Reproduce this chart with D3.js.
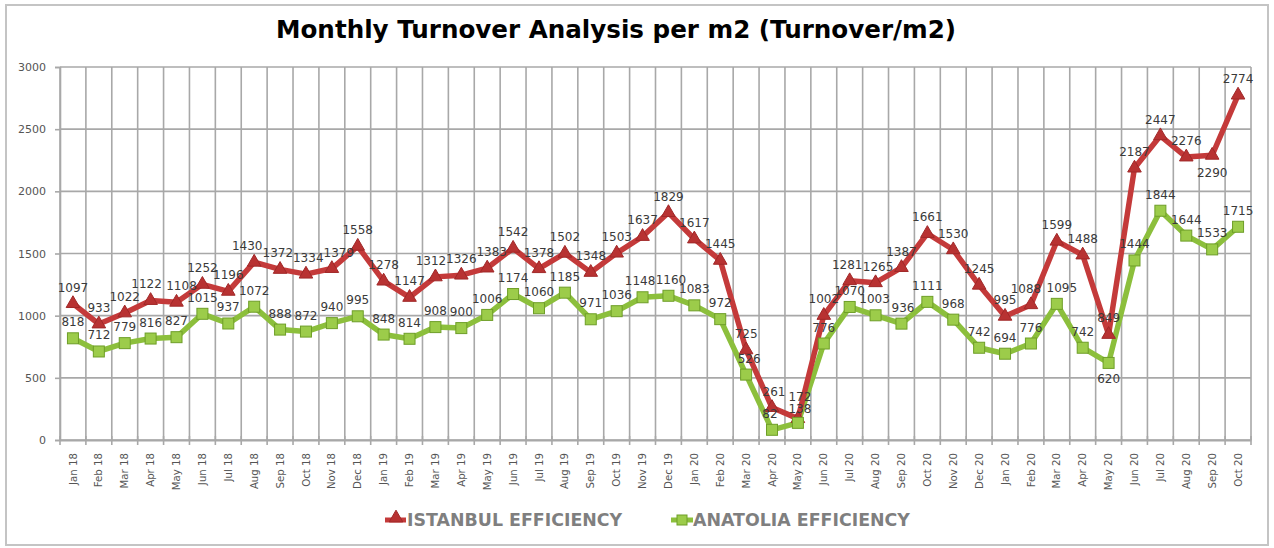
<!DOCTYPE html>
<html><head><meta charset="utf-8">
<script src="https://cdn.jsdelivr.net/npm/d3@7"></script>
<style>html,body{margin:0;padding:0;background:#fff;}svg{display:block;}</style>
</head><body>
<svg id="c" width="1274" height="548"></svg>
<script>
const categories = ["Jan 18","Feb 18","Mar 18","Apr 18","May 18","Jun 18","Jul 18","Aug 18","Sep 18","Oct 18","Nov 18","Dec 18",
 "Jan 19","Feb 19","Mar 19","Apr 19","May 19","Jun 19","Jul 19","Aug 19","Sep 19","Oct 19","Nov 19","Dec 19",
 "Jan 20","Feb 20","Mar 20","Apr 20","May 20","Jun 20","Jul 20","Aug 20","Sep 20","Oct 20","Nov 20","Dec 20",
 "Jan 20","Feb 20","Mar 20","Apr 20","May 20","Jun 20","Jul 20","Aug 20","Sep 20","Oct 20"];
const istanbul = [1097,933,1022,1122,1108,1252,1196,1430,1372,1334,1379,1558,
 1278,1147,1312,1326,1383,1542,1378,1502,1348,1503,1637,1829,
 1617,1445,725,261,172,1002,1281,1265,1387,1661,1530,1245,
 995,1088,1599,1488,849,2187,2447,2276,2290,2774];
const anatolia = [818,712,779,816,827,1015,937,1072,888,872,940,995,
 848,814,908,900,1006,1174,1060,1185,971,1036,1148,1160,
 1083,972,526,82,138,776,1070,1003,936,1111,968,742,
 694,776,1095,742,620,1444,1844,1644,1533,1715];
const yTicks = [0,500,1000,1500,2000,2500,3000];
const seriesNames = ["ISTANBUL EFFICIENCY","ANATOLIA EFFICIENCY"];
const titleText = "Monthly Turnover Analysis per m2 (Turnover/m2)";

(function(){
const svg = d3.select("#c");
const F = "DejaVu Sans, Verdana, sans-serif";
const pL = 60, pR = 1251, pT = 67, pB = 440;
const idx = categories.map((d,i)=>i);
const x = d3.scaleBand().domain(idx).range([pL,pR]);
const y = d3.scaleLinear().domain([0,3000]).range([pB,pT]);
const cx = i => x(i) + x.bandwidth()/2;

svg.append("rect").attr("x",6).attr("y",5).attr("width",1262).attr("height",540)
  .attr("fill","#fff").attr("stroke","#c4c4c4").attr("stroke-width",2);

svg.append("text").attr("x",616).attr("y",38).attr("text-anchor","middle")
  .attr("font-family",F).attr("font-weight","bold").attr("font-size",24.6).attr("fill","#000")
  .text(titleText);

const grid = svg.append("g");
grid.selectAll("line.h").data(yTicks).join("line")
  .attr("x1",pL).attr("x2",pR).attr("y1",d=>y(d)).attr("y2",d=>y(d))
  .attr("stroke","#a8a8a8").attr("stroke-width",1.6);
const bounds = idx.map(i=>x(i)).concat([pR]);
grid.selectAll("line.v").data(bounds).join("line")
  .attr("x1",d=>d).attr("x2",d=>d).attr("y1",pT).attr("y2",pB)
  .attr("stroke","#a8a8a8").attr("stroke-width",1.6);

const yAxis = svg.append("g").attr("transform",`translate(${pL},0)`)
  .call(d3.axisLeft(y).tickValues(yTicks).tickFormat(d3.format("d")).tickSize(5).tickPadding(9));
yAxis.select(".domain").attr("stroke","#a8a8a8").attr("stroke-width",1.6);
yAxis.selectAll(".tick line").attr("stroke","#a8a8a8").attr("stroke-width",1.6);
yAxis.selectAll("text").attr("font-family",F).attr("font-size",11).attr("fill","#555");

const xAxis = svg.append("g").attr("transform",`translate(0,${pB})`)
  .call(d3.axisBottom(x).tickSize(0).tickFormat(i=>categories[i]));
xAxis.select(".domain").attr("stroke","#a8a8a8").attr("stroke-width",1.8);
xAxis.selectAll(".tick text").attr("font-family",F).attr("font-size",10.2).attr("fill","#555")
  .attr("transform","rotate(-90)").attr("text-anchor","end").attr("x",-13).attr("y",0).attr("dy","0.35em");
svg.append("g").selectAll("line").data(bounds).join("line")
  .attr("x1",d=>d).attr("x2",d=>d).attr("y1",pB-4).attr("y2",pB+5)
  .attr("stroke","#a8a8a8").attr("stroke-width",1.6);

const line = d3.line().x((d,i)=>cx(i)).y(d=>y(d));
const redC = "#c43a3a", redD = "#a02828", greenC = "#8cbf3c", greenD = "#6e9e28";

svg.append("path").datum(anatolia).attr("d",line).attr("fill","none")
  .attr("stroke",greenC).attr("stroke-width",5.5).attr("stroke-linejoin","round");
svg.append("path").datum(istanbul).attr("d",line).attr("fill","none")
  .attr("stroke",redC).attr("stroke-width",5.5).attr("stroke-linejoin","round");

const tri = d3.symbol().type(d3.symbolTriangle).size(80);
svg.append("g").selectAll("path").data(istanbul).join("path")
  .attr("d",tri).attr("transform",(d,i)=>`translate(${cx(i)},${y(d)})`)
  .attr("fill","#b83232").attr("stroke",redD).attr("stroke-width",1);
svg.append("g").selectAll("rect").data(anatolia).join("rect")
  .attr("x",(d,i)=>cx(i)-5.5).attr("y",d=>y(d)-5.5).attr("width",11).attr("height",11)
  .attr("fill","#9ccc4a").attr("stroke",greenD).attr("stroke-width",1);

// label placement tweaks (pixel nudges, not data)
const nudge = {
  istanbul:{3:[-4,0],4:[5,0],7:[-7,0],8:[-2.3,0],9:[2.3,0],10:[7,0],14:[-4.5,0],16:[4.5,0],
            27:[2,0],28:[2,-6],30:[-2.5,0],31:[2.5,0],37:[-5,0],44:[0,34]},
  anatolia:{22:[-2.5,0],23:[2.5,0],26:[3,0],27:[-2,0],28:[2,2],31:[-1,0],32:[1.5,0],38:[5,0],40:[0,32]}
};
function labels(data, key){
  svg.append("g").selectAll("text").data(data).join("text")
    .attr("x",(d,i)=>cx(i) + ((nudge[key][i]||[0,0])[0]))
    .attr("y",(d,i)=>y(d)-12 + ((nudge[key][i]||[0,0])[1]))
    .attr("text-anchor","middle").attr("font-family",F).attr("font-size",12).attr("fill","#3a3a3a")
    .text(d=>d);
}
labels(istanbul,"istanbul");
labels(anatolia,"anatolia");

const lg = svg.append("g");
lg.append("line").attr("x1",385).attr("x2",406).attr("y1",520).attr("y2",520).attr("stroke",redC).attr("stroke-width",5);
lg.append("path").attr("d",tri).attr("transform","translate(396,518)").attr("fill","#b83232").attr("stroke",redD);
lg.append("text").attr("x",407).attr("y",526).attr("font-family",F).attr("font-weight","bold")
  .attr("font-size",17.4).attr("fill","#7f7f7f").text(seriesNames[0]);
lg.append("line").attr("x1",671).attr("x2",693).attr("y1",520).attr("y2",520).attr("stroke",greenC).attr("stroke-width",5);
lg.append("rect").attr("x",677).attr("y",515).attr("width",10).attr("height",10).attr("fill","#9ccc4a").attr("stroke",greenD);
lg.append("text").attr("x",693).attr("y",526).attr("font-family",F).attr("font-weight","bold")
  .attr("font-size",17.4).attr("fill","#7f7f7f").text(seriesNames[1]);
})();
</script>
</body></html>
